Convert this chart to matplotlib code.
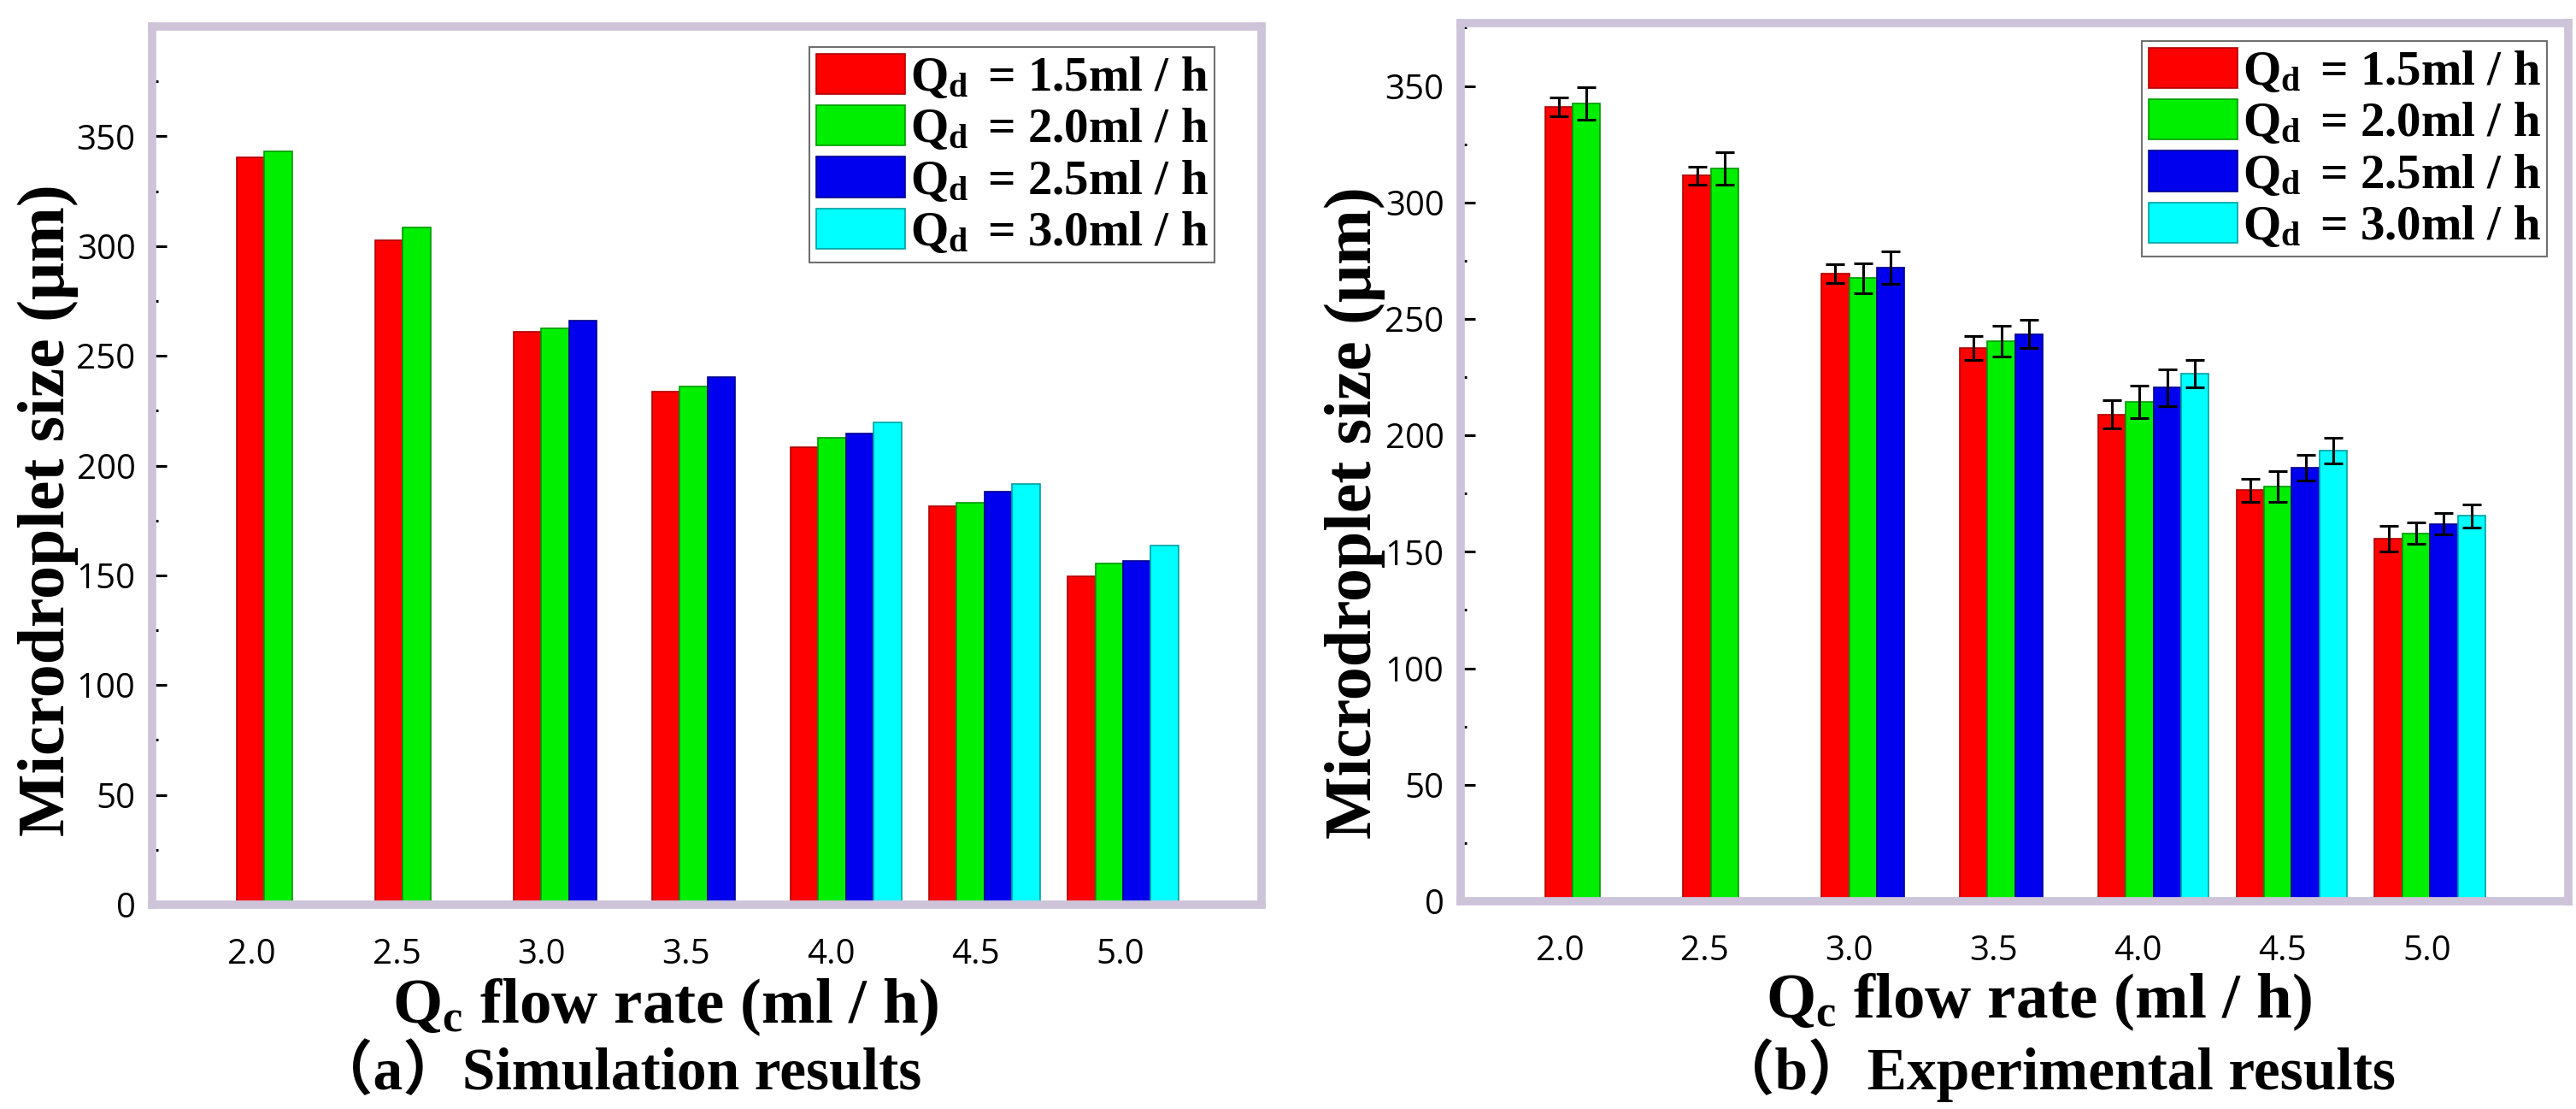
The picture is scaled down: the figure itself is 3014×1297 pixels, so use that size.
import numpy as np
import matplotlib
matplotlib.use('Agg')
import matplotlib.pyplot as plt
from matplotlib.font_manager import FontProperties

# Qc flow rate groups and Qd series
flowRates = ['2.0', '2.5', '3.0', '3.5', '4.0', '4.5', '5.0']
seriesNames = ['1.5', '2.0', '2.5', '3.0']
barColors = ['#ff0000', '#00ee00', '#0000ee', '#00ffff']
edgeColors = ['#b00000', '#009900', '#000090', '#00a0a0']

nan = np.nan
# simulation results (um)
simQd15 = [340.5, 302.5, 261.0, 233.5, 208.5, 181.5, 149.5]
simQd20 = [343.0, 308.5, 262.5, 236.0, 212.5, 183.0, 155.5]
simQd25 = [nan, nan, 266.0, 240.5, 214.5, 188.0, 156.5]
simQd30 = [nan, nan, nan, nan, 219.5, 191.5, 163.5]

# experimental results (um) and error bars
expQd15 = [341.0, 311.5, 269.5, 237.5, 209.0, 176.5, 155.5]
expQd20 = [342.5, 314.5, 267.5, 240.5, 214.5, 178.0, 158.0]
expQd25 = [nan, nan, 272.0, 243.5, 220.5, 186.0, 162.0]
expQd30 = [nan, nan, nan, nan, 226.5, 193.5, 165.5]
errQd15 = [4.0, 4.0, 4.0, 5.0, 6.0, 5.0, 5.5]
errQd20 = [7.0, 7.0, 6.5, 6.5, 7.0, 6.5, 4.5]
errQd25 = [nan, nan, 7.0, 6.0, 8.0, 5.5, 4.5]
errQd30 = [nan, nan, nan, nan, 6.0, 5.5, 5.0]

simData = [simQd15, simQd20, simQd25, simQd30]
expData = [expQd15, expQd20, expQd25, expQd30]
expErr = [errQd15, errQd20, errQd25, errQd30]

plt.rcParams['font.family'] = ['Open Sans', 'DejaVu Sans']
plt.rcParams['mathtext.fontset'] = 'custom'
plt.rcParams['mathtext.rm'] = 'Liberation Serif:bold'
plt.rcParams['mathtext.bf'] = 'Liberation Serif:bold'
plt.rcParams['mathtext.it'] = 'Liberation Serif:bold'

serifBold = ['Liberation Serif', 'Noto Sans CJK SC', 'DejaVu Serif']
frameColor = '#cdc4da'
W, H = 3014, 1297

fig = plt.figure(figsize=(W/100., H/100.), dpi=100)


def axesRect(x0, y0, x1, y1):
    return [x0/W, 1-y1/H, (x1-x0)/W, (y1-y0)/H]


def drawPanel(ax, data, err, ymax, legendAnchor):
    x = np.arange(len(flowRates))
    barWidth = 0.2
    for k in range(len(seriesNames)):
        vals = np.array(data[k], dtype=float)
        ok = ~np.isnan(vals)
        pos = x[ok] + (k-1.5)*barWidth
        label = r'$\mathrm{Q_d}\,$ = ' + seriesNames[k] + 'ml / h'
        if err is None:
            ax.bar(pos, vals[ok], barWidth, color=barColors[k], edgecolor=edgeColors[k],
                   linewidth=1.2, label=label, zorder=2)
        else:
            e = np.array(err[k], dtype=float)[ok]
            ax.bar(pos, vals[ok], barWidth, color=barColors[k], edgecolor=edgeColors[k],
                   linewidth=1.2, label=label, zorder=2, yerr=e,
                   error_kw=dict(ecolor='k', elinewidth=2.2, capsize=8, capthick=2.2, zorder=3))
    ax.set_xlim(-1.01, 7.0)
    ax.set_ylim(0, ymax)
    ax.set_xticks(x*1.045 - 0.29)
    ax.set_xticklabels(flowRates)
    ax.set_yticks(np.arange(0, 351, 50))
    ax.set_yticks(np.arange(25, 376, 50), minor=True)
    ax.tick_params(axis='x', length=0, pad=28, labelsize=29)
    ax.tick_params(axis='y', which='major', direction='in', length=12, width=2.2, pad=14, labelsize=29)
    ax.tick_params(axis='y', which='minor', direction='in', length=5, width=2.2)
    for s in ax.spines.values():
        s.set_color(frameColor)
        s.set_linewidth(7)
    leg = ax.legend(loc='upper right', bbox_to_anchor=legendAnchor, borderaxespad=0,
                    prop=FontProperties(family=serifBold, weight='bold', size=41),
                    handlelength=1.83, handleheight=0.9, handletextpad=0.1,
                    labelspacing=0.09, borderpad=0.14, fancybox=False, framealpha=1)
    leg.get_frame().set_edgecolor('#707070')
    leg.get_frame().set_linewidth(1.5)


axL = fig.add_axes(axesRect(178, 31, 1476, 1058))
drawPanel(axL, simData, None, 400, (0.958, 0.977))
axR = fig.add_axes(axesRect(1709, 27, 3005, 1054))
drawPanel(axR, expData, expErr, 377, (0.981, 0.980))

yLabel = 'Microdroplet size (μm)'
fig.text(56/W, 1-597/H, yLabel, rotation=90, ha='center', va='center',
         family=serifBold, weight='bold', size=56)
fig.text(1585/W, 1-600/H, yLabel, rotation=90, ha='center', va='center',
         family=serifBold, weight='bold', size=56)

xLabel = r'$\mathrm{Q_c}$ flow rate (ml / h)'
fig.text(778/W, 1-1178/H, xLabel, ha='center', va='center',
         family=serifBold, weight='bold', size=54)
fig.text(2385/W, 1-1172/H, xLabel, ha='center', va='center',
         family=serifBold, weight='bold', size=54)

fig.text(723/W, 1-1256/H, '（a）Simulation results', ha='center', va='center',
         family=serifBold, weight='bold', size=50)
fig.text(2405/W, 1-1252/H, '（b）Experimental results', ha='center', va='center',
         family=serifBold, weight='bold', size=50)

fig.savefig('out.png', dpi=100)
